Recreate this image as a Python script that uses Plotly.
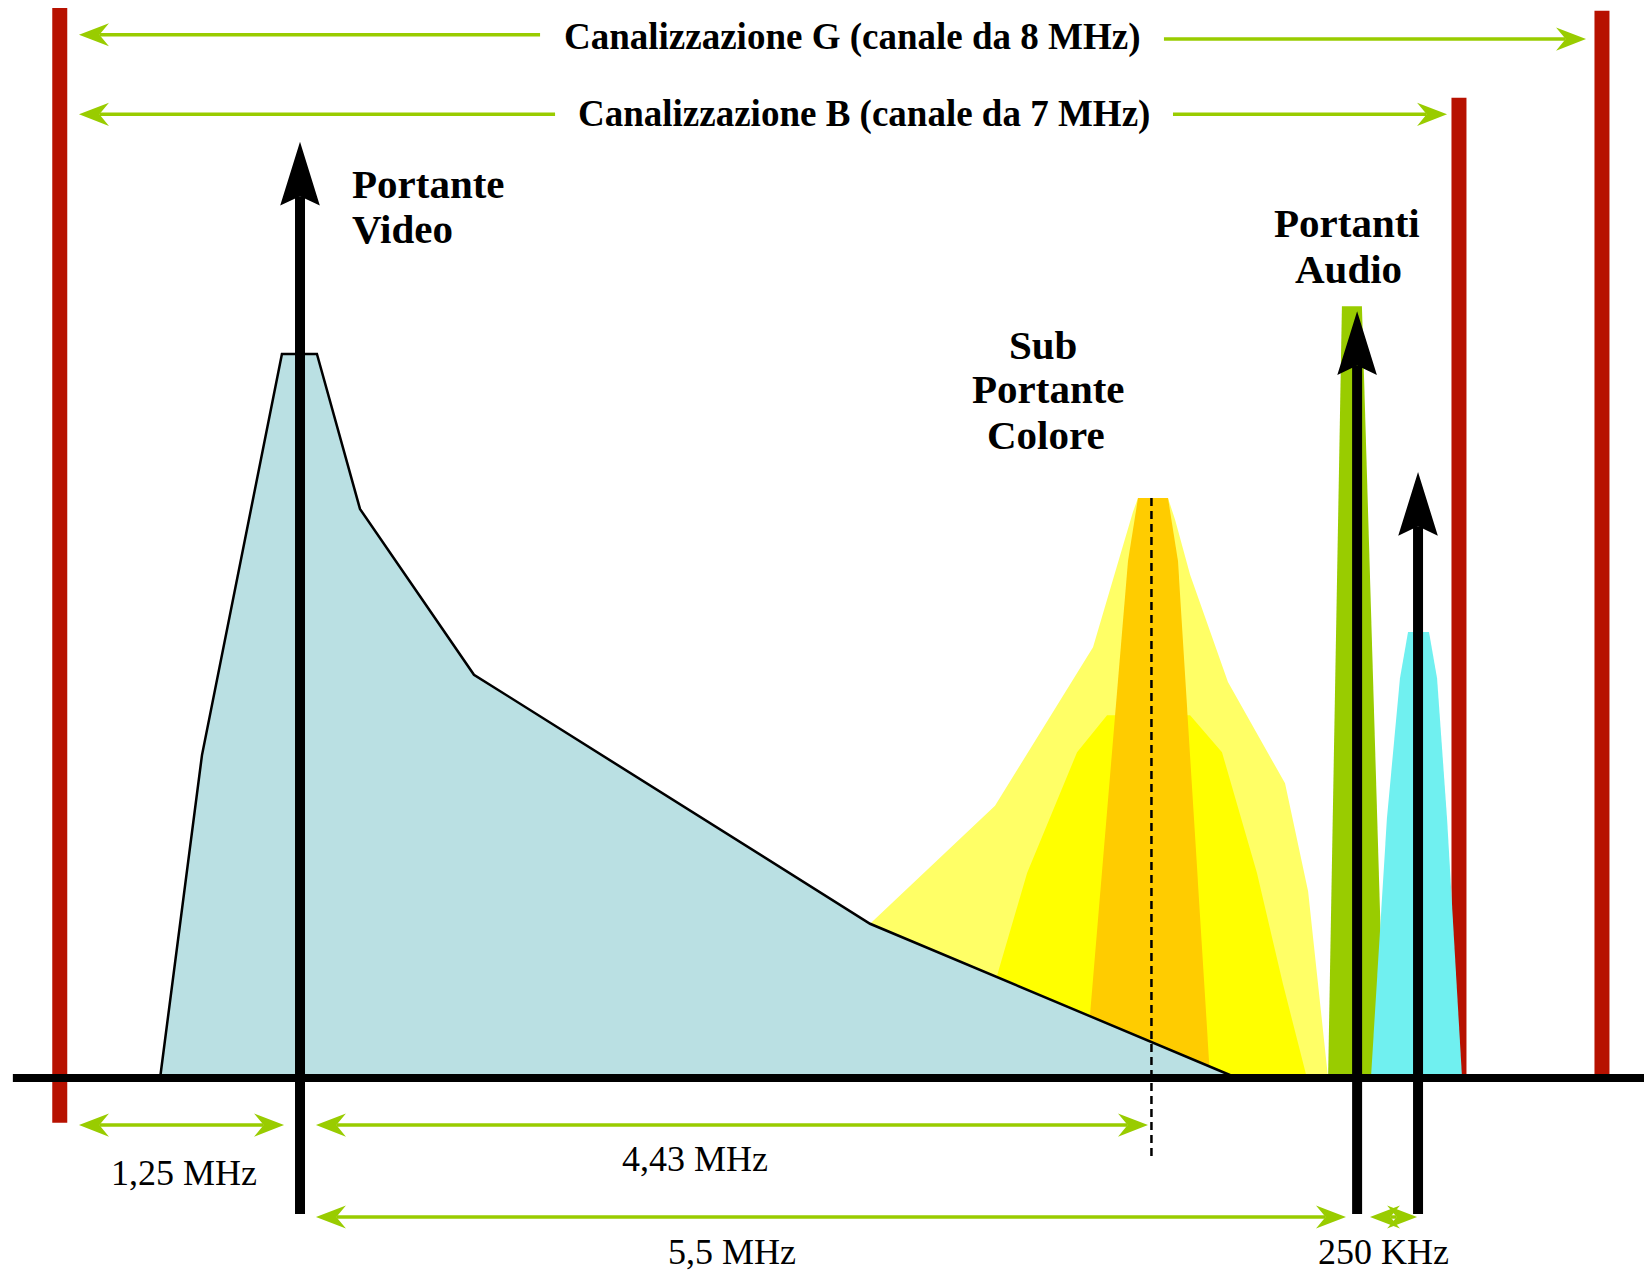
import plotly.graph_objects as go

# x: MHz measured from the video carrier, y: amplitude relative to the video peak
VIDEO_F = [-0.728, -0.510, -0.094, 0.088, 0.312, 0.905, 2.966, 4.875]
VIDEO_A = [0.0, 0.446, 1.0, 1.0, 0.786, 0.557, 0.213, 0.0]

CHROMA_OUTER_F = [2.966, 3.616, 4.126, 4.334, 4.360, 4.516, 4.553, 4.631, 4.828, 5.125, 5.245, 5.349, 4.875]
CHROMA_OUTER_A = [0.213, 0.376, 0.595, 0.782, 0.801, 0.801, 0.771, 0.695, 0.547, 0.407, 0.258, 0.0, 0.0]

CHROMA_MID_F = [3.626, 3.783, 4.043, 4.199, 4.631, 4.797, 4.979, 5.114, 5.239, 4.875]
CHROMA_MID_A = [0.141, 0.283, 0.450, 0.501, 0.501, 0.450, 0.283, 0.130, 0.0, 0.0]

CHROMA_CORE_F = [4.110, 4.308, 4.360, 4.516, 4.568, 4.735, 4.110]
CHROMA_CORE_A = [0.086, 0.714, 0.801, 0.801, 0.714, 0.0, 0.0]

AUDIO1_F = [5.349, 5.421, 5.525, 5.645]
AUDIO1_A = [0.0, 1.066, 1.066, 0.0]

AUDIO2_F = [5.572, 5.655, 5.723, 5.765, 5.874, 5.916, 5.968, 6.046]
AUDIO2_A = [0.0, 0.358, 0.552, 0.616, 0.616, 0.552, 0.358, 0.0]

CHROMA_CARRIER = 4.43
CHROMA_MARK = [0.801, -0.108]

CARRIER_F = [0.0, 5.5, 5.817]
CARRIER_TOP = [1.293, 1.059, 0.837]
CARRIER_BOTTOM = -0.188

CHANNEL_EDGE_F = [-1.25, 6.03, 6.774]
CHANNEL_EDGE_TOP = [1.478, 1.354, 1.474]
CHANNEL_EDGE_BOTTOM = [-0.062, 0.0, 0.0]

CHANNEL_NAMES = ["Canalizzazione G (canale da 8 MHz)", "Canalizzazione B (canale da 7 MHz)"]
CHANNEL_LEFT = [-1.150, -1.150]
CHANNEL_RIGHT = [6.691, 5.968]
CHANNEL_GAP = [(1.249, 4.495), (1.327, 4.542)]
CHANNEL_LEVEL = [(1.441, 1.435), (1.331, 1.331)]

SPAN_LABELS = ["1,25 MHz", "4,43 MHz", "5,5 MHz", "250 KHz"]
SPAN_START = [-1.150, 0.083, 0.083, 5.567]
SPAN_END = [-0.083, 4.412, 5.442, 5.812]
SPAN_LEVEL = [-0.065, -0.065, -0.192, -0.192]
SPAN_HEADS = [(True, True), (True, True), (True, True), (True, True)]

GREEN = "#99CC00"
RED = "#B71100"
FONT = "Liberation Serif, Times New Roman, serif"

# arrow head sizes (data units)
V_LEN, V_HALF, V_NOTCH = 0.088, 0.103, 0.013
H_LEN, H_HALF, H_NOTCH = 0.156, 0.016, 0.050

fig = go.Figure()


def poly(xs, ys, fill, line_color=None, width=0):
    fig.add_trace(go.Scatter(x=xs, y=ys, mode="lines", fill="toself", fillcolor=fill,
                             line=dict(color=line_color or fill, width=width),
                             hoverinfo="skip"))


def seg(xs, ys, color, width, dash=None):
    fig.add_trace(go.Scatter(x=xs, y=ys, mode="lines",
                             line=dict(color=color, width=width, dash=dash),
                             hoverinfo="skip"))


def head_up(x, y, color="black"):
    poly([x, x - V_HALF, x, x + V_HALF, x],
         [y, y - V_LEN, y - V_LEN + V_NOTCH, y - V_LEN, y], color)


def head_h(x, y, sign, color=GREEN):
    poly([x, x - sign * H_LEN, x - sign * (H_LEN - H_NOTCH), x - sign * H_LEN, x],
         [y, y + H_HALF, y, y - H_HALF, y], color)


def h_arrow(x0, x1, y0, y1, left_head, right_head):
    a = x0 + (H_LEN - H_NOTCH) if left_head else x0
    b = x1 - (H_LEN - H_NOTCH) if right_head else x1
    seg([a, b], [y0, y1], GREEN, 3.5)
    if left_head:
        head_h(x0, y0, -1)
    if right_head:
        head_h(x1, y1, 1)


# channel edges sit behind the spectra
for f, top, bot in zip(CHANNEL_EDGE_F, CHANNEL_EDGE_TOP, CHANNEL_EDGE_BOTTOM):
    seg([f, f], [bot, top], RED, 15)

# colour sub-carrier layers, audio peaks, then the luminance spectrum on top
poly(CHROMA_OUTER_F, CHROMA_OUTER_A, "#FFFF66")
poly(CHROMA_MID_F, CHROMA_MID_A, "#FFFF00")
poly(CHROMA_CORE_F, CHROMA_CORE_A, "#FFCC00")
poly(AUDIO1_F, AUDIO1_A, "#99CC00")
poly(AUDIO2_F, AUDIO2_A, "#70F0F0")
poly(VIDEO_F, VIDEO_A, "#BAE0E3", "black", 2.5)

seg([CHROMA_CARRIER, CHROMA_CARRIER], CHROMA_MARK, "black", 2.5, "8px,5px")

# frequency axis
seg([-1.494, 7.04], [0, 0], "black", 8)

# carriers
for f, top in zip(CARRIER_F, CARRIER_TOP):
    seg([f, f], [CARRIER_BOTTOM, top - V_LEN + V_NOTCH], "black", 10)
    head_up(f, top)

# channel width arrows
for name, lo, hi, gap, lev in zip(CHANNEL_NAMES, CHANNEL_LEFT, CHANNEL_RIGHT, CHANNEL_GAP, CHANNEL_LEVEL):
    h_arrow(lo, gap[0], lev[0], lev[0], True, False)
    h_arrow(gap[1], hi, lev[1], lev[1], False, True)
    fig.add_annotation(x=(gap[0] + gap[1]) / 2, y=(lev[0] + lev[1]) / 2, text=name,
                       showarrow=False, xanchor="center", yanchor="middle",
                       font=dict(family=FONT, size=37, color="black", weight="bold"))

# spacing arrows
for lo, hi, lev, heads in zip(SPAN_START, SPAN_END, SPAN_LEVEL, SPAN_HEADS):
    h_arrow(lo, hi, lev, lev, heads[0], heads[1])

span_text_pos = [(-0.604, -0.131), (2.055, -0.112), (2.248, -0.240), (5.635, -0.240)]
for label, (x, y) in zip(SPAN_LABELS, span_text_pos):
    fig.add_annotation(x=x, y=y, text=label, showarrow=False, xanchor="center", yanchor="middle",
                       font=dict(family=FONT, size=36, color="black"))

bold_labels = [
    ("Portante", 0.260, 1.235, "left"),
    ("Video", 0.260, 1.173, "left"),
    ("Sub", 3.866, 1.012, "center"),
    ("Portante", 3.892, 0.952, "center"),
    ("Colore", 3.881, 0.888, "center"),
    ("Portanti", 5.447, 1.181, "center"),
    ("Audio", 5.455, 1.117, "center"),
]
for text, x, y, anchor in bold_labels:
    fig.add_annotation(x=x, y=y, text=text, showarrow=False, xanchor=anchor, yanchor="middle",
                       font=dict(family=FONT, size=41, color="black", weight="bold"))

# the page adds an 8px body margin, so the figure is 8px smaller and the ranges shifted
fig.update_layout(
    width=1644, height=1263,
    margin=dict(l=0, r=0, t=0, b=0),
    paper_bgcolor="white", plot_bgcolor="white",
    showlegend=False,
    xaxis=dict(range=[-1.5193, 7.0343], visible=False, fixedrange=True),
    yaxis=dict(range=[-0.2666, 1.4779], visible=False, fixedrange=True),
)

fig.write_html("out.html")
